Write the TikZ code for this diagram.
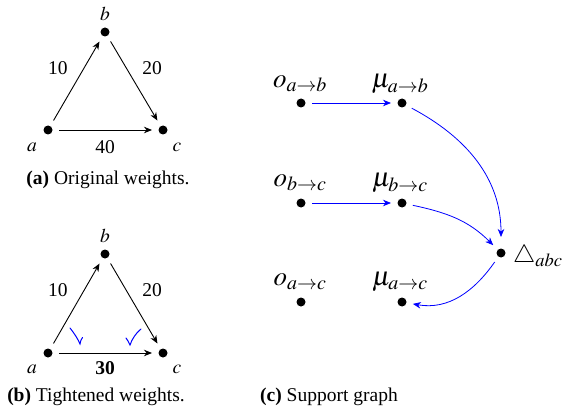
\documentclass[tikz,border=0pt]{standalone}
\usepackage{mathptmx}
\usepackage[no-math]{fontspec}
\setmainfont{Liberation Serif}
\usetikzlibrary{arrows.meta}
\begin{document}
\begin{tikzpicture}[x=1pt,y=-1pt,
  dot/.style={circle,fill=black,inner sep=0pt,minimum size=9pt,outer sep=6.5pt},
  lbl/.style={font=\fontsize{19.5}{23}\selectfont,inner sep=0pt},
  biglbl/.style={font=\fontsize{27}{31}\selectfont,inner sep=0pt},
  edge/.style={line width=0.9pt,-{Stealth[length=8pt,width=6.5pt,inset=2.5pt]}},
  bedge/.style={blue,line width=0.8pt,-{Stealth[length=8pt,width=6.5pt,inset=2.5pt]}},
  tick/.style={blue,line width=1pt,line cap=round}]
\useasboundingbox (0,0) rectangle (563,420);
% (a)
\node[dot] (a1) at (48,130) {};
\node[dot] (b1) at (105,32) {};
\node[dot] (c1) at (163,130) {};
\node[lbl] (la1) at (32,147) {$a$};
\node[lbl] (lb1) at (105,14) {$b$};
\node[lbl] (lc1) at (177,147) {$c$};
\draw[edge] (a1) -- (b1);
\draw[edge] (b1) -- (c1);
\draw[edge] (a1) -- (c1);
\node[lbl] (w1a) at (58,68) {10};
\node[lbl] (w2a) at (152,68) {20};
\node[lbl] (w3a) at (105,147) {40};
\node[lbl] (cap1) at (108,180) {\textbf{(a)} Original weights.};
% (b)
\node[dot] (a2) at (48,353) {};
\node[dot] (b2) at (105,254) {};
\node[dot] (c2) at (163,353) {};
\node[lbl] (la2) at (32,369) {$a$};
\node[lbl] (lb2) at (105,236) {$b$};
\node[lbl] (lc2) at (177,369) {$c$};
\draw[edge] (a2) -- (b2);
\draw[edge] (b2) -- (c2);
\draw[edge] (a2) -- (c2);
\node[lbl] (w1b) at (58,290) {10};
\node[lbl] (w2b) at (152,290) {20};
\node[lbl] (w3b) at (105,368) {\textbf{30}};
\draw[tick] (70,328) .. controls (74,333) and (78,339) .. (80,344)
  .. controls (80.5,341) and (81,339.5) .. (82.5,337.5);
\draw[tick] (126,338) .. controls (127.5,340) and (129,342.5) .. (130,345)
  .. controls (132,339) and (136,333) .. (141,329);
\node[lbl] (cap2) at (96,397) {\textbf{(b)} Tightened weights.};
% (c)
\node[dot] (o1) at (301,103) {};
\node[dot] (m1) at (402,103) {};
\node[dot] (o2) at (301,203) {};
\node[dot] (m2) at (402,203) {};
\node[dot] (o3) at (301,302) {};
\node[dot] (m3) at (402,302) {};
\node[dot] (t) at (501,253) {};
\node[biglbl] (lo1) at (300,84) {$o_{a\to b}$};
\node[biglbl] (lm1) at (400,84) {$\mu_{a\to b}$};
\node[biglbl] (lo2) at (300,183) {$o_{b\to c}$};
\node[biglbl] (lm2) at (400,183) {$\mu_{b\to c}$};
\node[biglbl] (lo3) at (300,282) {$o_{a\to c}$};
\node[biglbl] (lm3) at (400,282) {$\mu_{a\to c}$};
\node[anchor=west,inner sep=0pt,font=\fontsize{25}{29}\selectfont] (lt) at (513,256) {$\triangle_{abc}$};
\draw[bedge] (o1) -- (m1);
\draw[bedge] (o2) -- (m2);
\draw[bedge,shorten >=5pt] (m1) to[out=-28,in=90] (t);
\draw[bedge] (m2) to[out=-12,in=135] (t);
\draw[bedge] (t) to[out=-125,in=-10] (m3);
\node[lbl] (cap3) at (329,397) {\textbf{(c)} Support graph};
\end{tikzpicture}
\end{document}
